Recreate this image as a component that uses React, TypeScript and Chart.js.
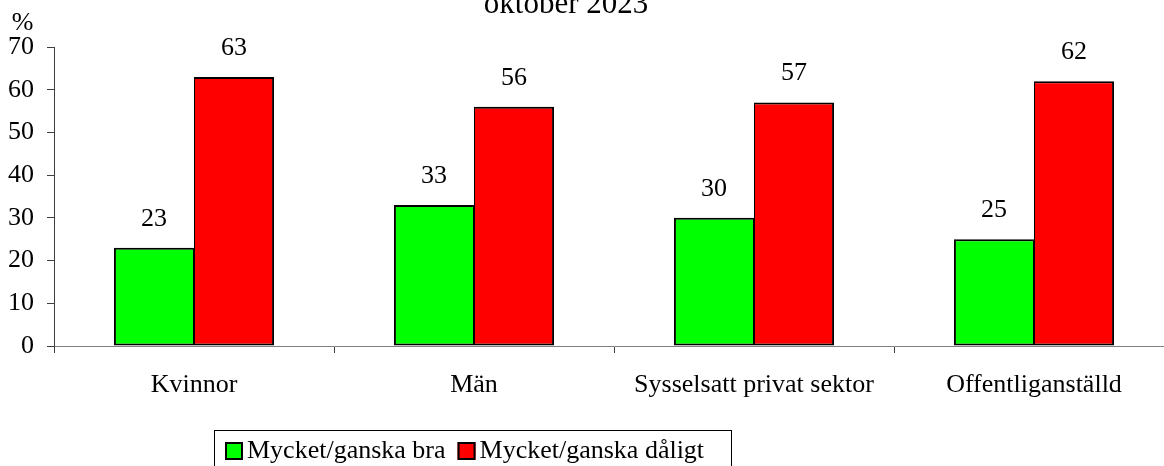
import React, { useEffect, useRef } from "react";
import { Chart, registerables } from "chart.js";

Chart.register(...registerables);

const categories = ["Kvinnor", "Män", "Sysselsatt privat sektor", "Offentliganställd"];
const seriesNames = ["Mycket/ganska bra", "Mycket/ganska dåligt"];
const goodValues = [23, 33, 30, 25];
const badValues = [63, 56, 57, 62];
const yMin = 0;
const yMax = 70;
const yStep = 10;
const titleText = "oktober 2023";
const unitLabel = "%";
const seriesColors = ["#00ff00", "#ff0000"];

const FONT = "'Liberation Serif', 'Times New Roman', serif";
const FS = 26;

const overlayPlugin = {
  id: "overlay",
  afterDraw(chart: any) {
    const ctx = chart.ctx;
    ctx.save();
    ctx.fillStyle = "#000";
    ctx.font = `${FS}px ${FONT}`;
    ctx.textAlign = "center";
    ctx.textBaseline = "middle";
    chart.data.datasets.forEach((ds: any, i: number) => {
      const meta = chart.getDatasetMeta(i);
      meta.data.forEach((bar: any, j: number) => {
        ctx.fillText(String(ds.data[j]), bar.x, bar.y - 29);
      });
    });
    // title (partly cut off at top)
    ctx.font = `31px ${FONT}`;
    ctx.textBaseline = "alphabetic";
    ctx.fillText(titleText, 566, 13);
    // unit label
    ctx.font = `${FS}px ${FONT}`;
    ctx.textBaseline = "middle";
    ctx.fillText(unitLabel, 22.5, 23);
    // legend
    const lx = 214;
    const ly = 430;
    ctx.strokeStyle = "#000";
    ctx.lineWidth = 1;
    ctx.strokeRect(lx + 0.5, ly + 0.5, 517, 60);
    let x = 225;
    const cy = 451;
    ctx.textAlign = "left";
    ctx.font = `${FS}px ${FONT}`;
    seriesNames.forEach((name, i) => {
      ctx.fillStyle = seriesColors[i];
      ctx.fillRect(x, cy - 9, 18, 18);
      ctx.strokeStyle = "#000";
      ctx.lineWidth = 2;
      ctx.strokeRect(x + 1, cy - 8, 16, 16);
      ctx.fillStyle = "#000";
      ctx.fillText(name, x + 22, cy);
      x += 22 + ctx.measureText(name).width + 12;
    });
    ctx.restore();
  },
};

export default function App() {
  const ref = useRef<HTMLCanvasElement>(null);
  useEffect(() => {
    if (!ref.current) return;
    const chart = new Chart(ref.current, {
      type: "bar",
      data: {
        labels: categories,
        datasets: [
          {
            label: seriesNames[0],
            data: goodValues,
            backgroundColor: seriesColors[0],
            borderColor: "#000",
            borderWidth: { top: 2, left: 2, right: 1, bottom: 2 },
            borderSkipped: false,
            categoryPercentage: 0.572,
            barPercentage: 1,
          },
          {
            label: seriesNames[1],
            data: badValues,
            backgroundColor: seriesColors[1],
            borderColor: "#000",
            borderWidth: { top: 2, left: 1, right: 2, bottom: 2 },
            borderSkipped: false,
            categoryPercentage: 0.572,
            barPercentage: 1,
          },
        ],
      },
      options: {
        responsive: false,
        animation: false,
        layout: { padding: { top: 47, right: 6, left: 0, bottom: 0 } },
        plugins: {
          legend: { display: false },
          title: { display: false },
          tooltip: { enabled: false },
        },
        scales: {
          x: {
            afterFit: (s: any) => {
              s.height = 120;
            },
            grid: {
              offset: true,
              drawOnChartArea: false,
              drawTicks: true,
              tickLength: 7,
              color: "#404040",
            },
            border: { display: true, color: "#808080", width: 1 },
            ticks: {
              color: "#000",
              font: { family: FONT, size: FS },
              padding: 17,
              maxRotation: 0,
              autoSkip: false,
            },
          },
          y: {
            min: yMin,
            max: yMax,
            afterFit: (s: any) => {
              s.width = 54;
            },
            grid: {
              drawOnChartArea: false,
              drawTicks: true,
              tickLength: 7,
              color: "#404040",
            },
            border: { display: true, color: "#404040", width: 1 },
            ticks: {
              stepSize: yStep,
              color: "#000",
              font: { family: FONT, size: FS },
              padding: 13,
            },
          },
        },
      },
      plugins: [overlayPlugin],
    });
    return () => chart.destroy();
  }, []);
  return (
    <div style={{ position: "absolute", left: 0, top: 0, width: 1164, height: 466, overflow: "hidden", background: "#fff" }}>
      <canvas ref={ref} width={1180} height={466} style={{ display: "block", width: 1180, height: 466 }} />
    </div>
  );
}
